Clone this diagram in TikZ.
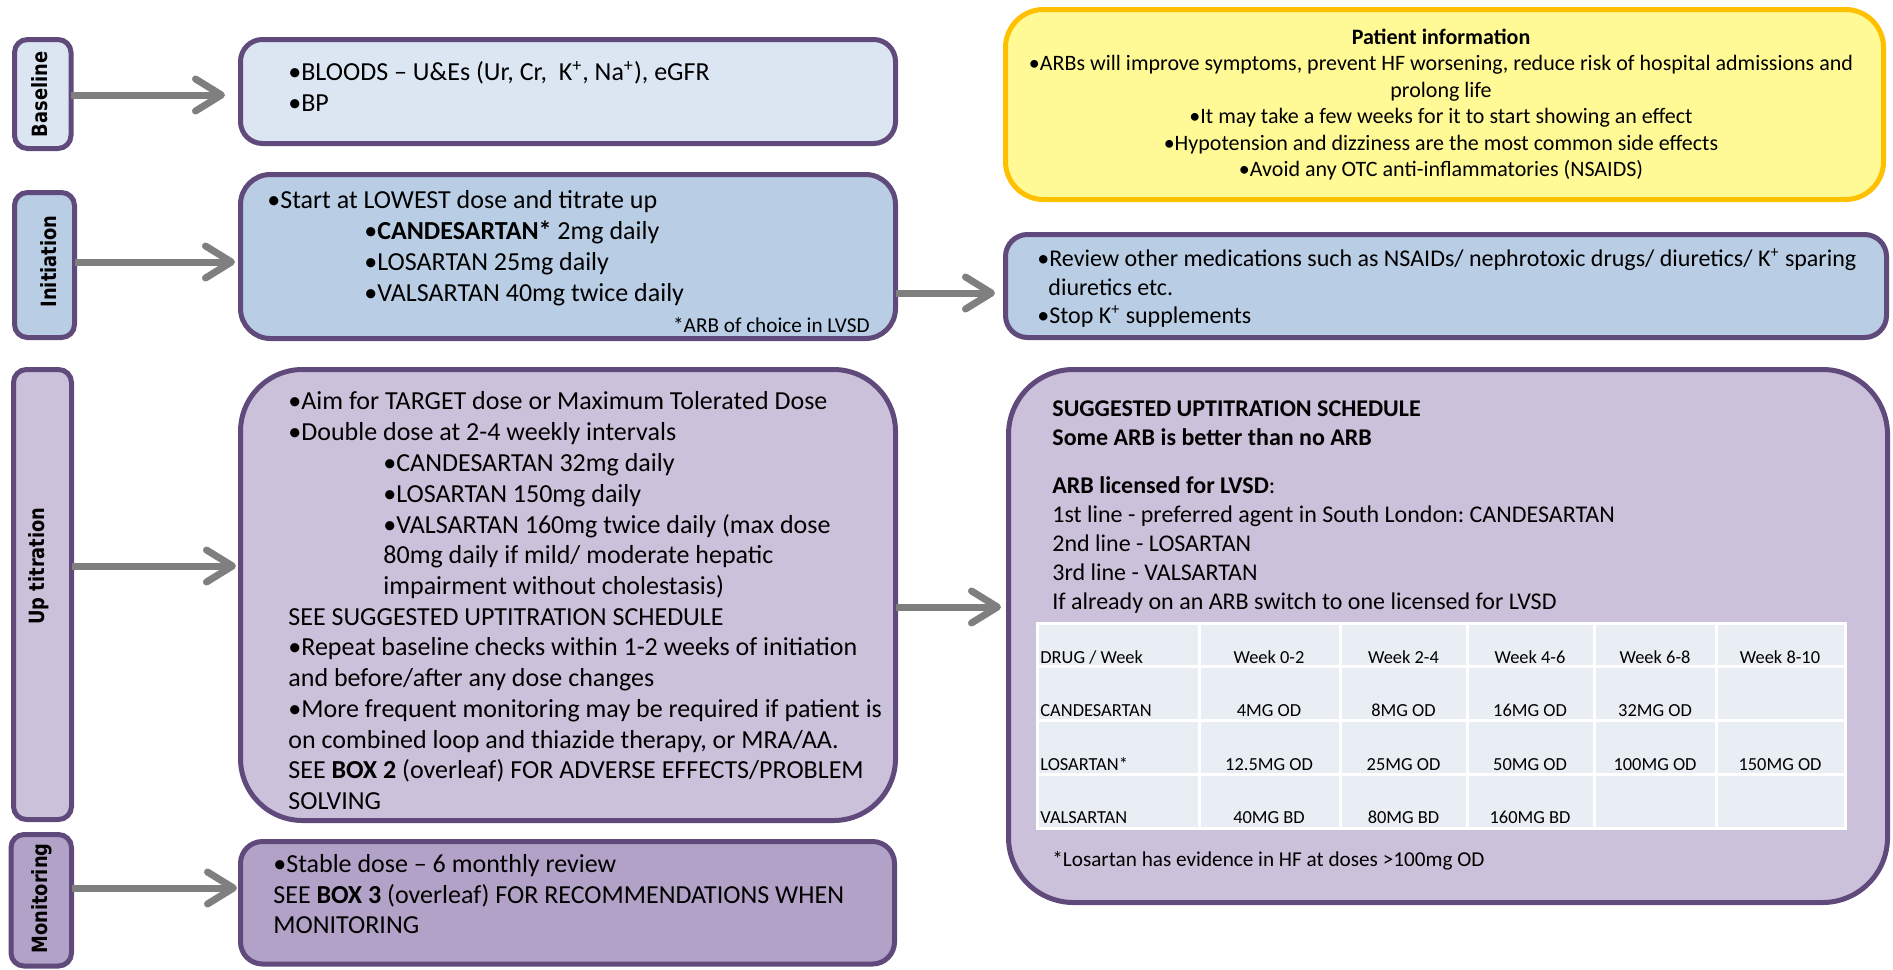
\documentclass[tikz,border=0pt]{standalone}
\usepackage{fontspec}
\setmainfont{Carlito}
\newfontfamily\tagfont[FakeStretch=0.85]{DejaVu Sans}
\usetikzlibrary{arrows.meta,fit}
\frenchspacing

\definecolor{frame}{HTML}{604A7B}
\definecolor{paleblue}{HTML}{DCE6F2}
\definecolor{midblue}{HTML}{B9CDE5}
\definecolor{palepurple}{HTML}{CCC1DA}
\definecolor{midpurple}{HTML}{B3A2C7}
\definecolor{infoyellow}{HTML}{FFFA96}
\definecolor{infogold}{HTML}{FFC000}
\definecolor{arrowgray}{HTML}{7F7F7F}
\definecolor{cellfill}{HTML}{E9EDF4}

\begin{document}
\begin{tikzpicture}[x=0.5pt,y=-0.5pt,
  panel/.style={draw=frame,line width=2.5pt,inner sep=0pt,outer sep=0pt},
  tagbox/.style={panel,rounded corners=6.5pt},
  tagtext/.style={rotate=90,anchor=base,inner sep=0pt,font=\tagfont\bfseries\fontsize{10.5}{12}\selectfont},
  body/.style={anchor=base west,inner sep=0pt,font=\fontsize{13}{15}\selectfont},
  side/.style={anchor=base west,inner sep=0pt,font=\fontsize{12}{14}\selectfont},
  info/.style={anchor=base,inner sep=0pt,font=\fontsize{11}{13}\selectfont},
  note/.style={inner sep=0pt,font=\fontsize{10.6}{12}\selectfont},
  cell/.style={anchor=base,inner sep=0pt,font=\fontsize{9.2}{11}\selectfont},
  flow/.style={draw=arrowgray,line width=3.5pt,-{Straight Barb[length=13pt,width=16pt,round]}},
]
\useasboundingbox (0,0) rectangle (1893,969);
\fill[white] (0,0) rectangle (1893,969);

% stage tags on the left
\node[tagbox,fill=paleblue,fit={(14.5,39.5) (71,148.5)}] (lab1) {};
\node[tagbox,fill=midblue,fit={(14.5,192.5) (74.5,337.5)}] (lab2) {};
\node[tagbox,fill=palepurple,fit={(13.5,369.5) (71.5,819.5)}] (lab3) {};
\node[tagbox,fill=midpurple,fit={(11,834.5) (71.5,966)}] (lab4) {};

% main panels
\node[panel,rounded corners=11pt,fill=paleblue,fit={(240.5,39.5) (895.5,143.5)}] (b1) {};
\node[panel,rounded corners=15pt,fill=midblue,fit={(240.5,174.5) (895.5,338.5)}] (b2) {};
\node[panel,rounded corners=31pt,fill=palepurple,fit={(240.5,369.5) (895.5,820.5)}] (b3) {};
\node[panel,rounded corners=11pt,fill=midpurple,fit={(240.5,841.5) (894.5,964)}] (b4) {};
\node[panel,draw=infogold,rounded corners=19pt,fill=infoyellow,fit={(1005.5,9.5) (1883.5,199.5)}] (info) {};
\node[panel,rounded corners=11pt,fill=midblue,fit={(1005.5,234.5) (1886.5,337.5)}] (rev) {};
\node[panel,rounded corners=32.5pt,fill=palepurple,fit={(1008.5,369.5) (1887.5,902.5)}] (sched) {};

% arrow rows
\coordinate (row1) at (0,95);
\coordinate (row2) at (0,262);
\coordinate (row3) at (0,566);
\coordinate (row4) at (0,888);
\coordinate (row5) at (0,293);
\coordinate (row6) at (0,607);

\draw[flow,shorten >=7.75pt] (lab1.east |- row1) -- (b1.west |- row1);
\draw[flow,shorten >=2.75pt] (lab2.east |- row2) -- (b2.west |- row2);
\draw[flow,shorten >=2.25pt] (lab3.east |- row3) -- (b3.west |- row3);
\draw[flow,shorten >=1.75pt] (lab4.east |- row4) -- (b4.west |- row4);
\draw[flow,shorten >=5.25pt] (b2.east |- row5) -- (rev.west |- row5);
\draw[flow,shorten >=3.75pt] (b3.east |- row6) -- (sched.west |- row6);

% tag labels
\node[tagtext] (lab1t) at (47,94.5) {Baseline};
\node[tagtext] (lab2t) at (56,261.5) {Initiation};
\node[tagtext] (lab3t) at (44,566) {Up titration};
\node[tagtext] (lab4t) at (47,898.5) {Monitoring};

% baseline
\node[body] (t11) at (288,80) {•BLOODS – U\&Es (Ur, Cr,\ \ K\textsuperscript{+}, Na\textsuperscript{+}), eGFR};
\node[body] (t12) at (288,111) {•BP};

% initiation
\node[body] (t21) at (267,208) {•Start at LOWEST dose and titrate up};
\node[body] (t22) at (364,239) {•\textbf{CANDESARTAN*} 2mg daily};
\node[body] (t23) at (364,270) {•LOSARTAN 25mg daily};
\node[body] (t24) at (364,301) {•VALSARTAN 40mg twice daily};
\node[note,anchor=base east] (t25) at (870,332) {*ARB of choice in LVSD};

% up titration
\node[body] (t31) at (288,409) {•Aim for TARGET dose or Maximum Tolerated Dose};
\node[body] (t32) at (288,440) {•Double dose at 2-4 weekly intervals};
\node[body] (t33) at (383,471) {•CANDESARTAN 32mg daily};
\node[body] (t34) at (383,502) {•LOSARTAN 150mg daily};
\node[body] (t35) at (383,533) {•VALSARTAN 160mg twice daily (max dose};
\node[body] (t36) at (383,563) {80mg daily if mild/ moderate hepatic};
\node[body] (t37) at (383,594) {impairment without cholestasis)};
\node[body] (t38) at (288,625) {SEE SUGGESTED UPTITRATION SCHEDULE};
\node[body] (t39) at (288,655) {•Repeat baseline checks within 1-2 weeks of initiation};
\node[body] (t3a) at (288,686) {and before/after any dose changes};
\node[body] (t3b) at (288,717) {•More frequent monitoring may be required if patient is};
\node[body] (t3c) at (288,748) {on combined loop and thiazide therapy, or MRA/AA.};
\node[body] (t3d) at (288,778) {SEE \textbf{BOX 2} (overleaf) FOR ADVERSE EFFECTS/PROBLEM};
\node[body] (t3e) at (288,809) {SOLVING};

% monitoring
\node[body] (t41) at (273,872) {•Stable dose – 6 monthly review};
\node[body] (t42) at (273,903) {SEE \textbf{BOX 3} (overleaf) FOR RECOMMENDATIONS WHEN};
\node[body] (t43) at (273,933) {MONITORING};

% patient information
\node[info] (p1) at (1441,44) {\textbf{Patient information}};
\node[info] (p2) at (1441,70.5) {•ARBs will improve symptoms, prevent HF worsening, reduce risk of hospital admissions and};
\node[info] (p3) at (1441,97) {prolong life};
\node[info] (p4) at (1441,123) {•It may take a few weeks for it to start showing an effect};
\node[info] (p5) at (1441,150) {•Hypotension and dizziness are the most common side effects};
\node[info] (p6) at (1441,176.5) {•Avoid any OTC anti-inflammatories (NSAIDS)};

% medication review
\node[side] (r1) at (1037,266) {•Review other medications such as NSAIDs/ nephrotoxic drugs/ diuretics/ K\textsuperscript{+} sparing};
\node[side] (r2) at (1048,295) {diuretics etc.};
\node[side] (r3) at (1037,323) {•Stop K\textsuperscript{+} supplements};

% schedule
\node[side] (s1) at (1052,416) {\textbf{SUGGESTED UPTITRATION SCHEDULE}};
\node[side] (s2) at (1052,445) {\textbf{Some ARB is better than no ARB}};
\node[side] (s3) at (1052,493) {\textbf{ARB licensed for LVSD}:};
\node[side] (s4) at (1052,522) {1st line - preferred agent in South London: CANDESARTAN};
\node[side] (s5) at (1052,551) {2nd line - LOSARTAN};
\node[side] (s6) at (1052,580) {3rd line - VALSARTAN};
\node[side] (s7) at (1052,609) {If already on an ARB switch to one licensed for LVSD};
\node[note,anchor=base west] (s8) at (1052,866) {*Losartan has evidence in HF at doses >100mg OD};

% dose table
\fill[cellfill] (1037,623) rectangle (1845,828);
\draw[white,line width=1.5pt] (1037,623) rectangle (1845,828);
\foreach \cx in {1199,1340,1467,1594,1716} \draw[white,line width=1.5pt] (\cx,623) -- (\cx,828);
\foreach \cy in {666,720,774} \draw[white,line width=1.5pt] (1037,\cy) -- (1845,\cy);

\node[cell,anchor=base west] (h0) at (1040,663) {DRUG / Week};
\node[cell] (h1) at (1269,663) {Week 0-2};
\node[cell] (h2) at (1403.5,663) {Week 2-4};
\node[cell] (h3) at (1530,663) {Week 4-6};
\node[cell] (h4) at (1655,663) {Week 6-8};
\node[cell] (h5) at (1780,663) {Week 8-10};

\node[cell,anchor=base west] (c0) at (1040,716) {CANDESARTAN};
\node[cell] (c1) at (1269,716) {4MG OD};
\node[cell] (c2) at (1403.5,716) {8MG OD};
\node[cell] (c3) at (1530,716) {16MG OD};
\node[cell] (c4) at (1655,716) {32MG OD};

\node[cell,anchor=base west] (l0) at (1040,770) {LOSARTAN*};
\node[cell] (l1) at (1269,770) {12.5MG OD};
\node[cell] (l2) at (1403.5,770) {25MG OD};
\node[cell] (l3) at (1530,770) {50MG OD};
\node[cell] (l4) at (1655,770) {100MG OD};
\node[cell] (l5) at (1780,770) {150MG OD};

\node[cell,anchor=base west] (v0) at (1040,823) {VALSARTAN};
\node[cell] (v1) at (1269,823) {40MG BD};
\node[cell] (v2) at (1403.5,823) {80MG BD};
\node[cell] (v3) at (1530,823) {160MG BD};
\end{tikzpicture}
\end{document}
